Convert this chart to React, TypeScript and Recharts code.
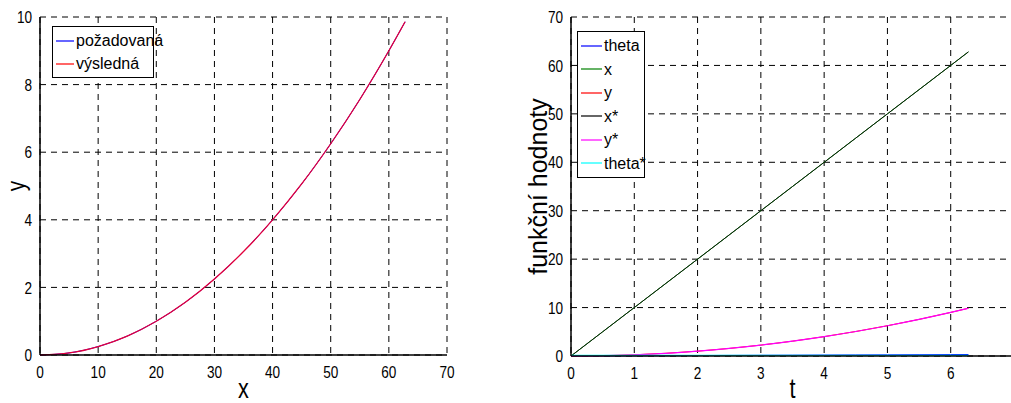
import { LineChart, Line, XAxis, YAxis, CartesianGrid } from "recharts";

// left subplot: requested vs resulting path
const pathX = [0, 5, 10, 15, 20, 25, 30, 35, 40, 45, 50, 55, 60, 62.8];
const pathRequested = [0, 0.06, 0.25, 0.56, 1.0, 1.56, 2.25, 3.06, 4.0, 5.06, 6.25, 7.56, 9.0, 9.86];
const pathResult = [0, 0.06, 0.25, 0.56, 1.0, 1.56, 2.25, 3.06, 4.0, 5.06, 6.25, 7.56, 9.0, 9.86];

// right subplot: function values over t
const tValues = [0, 0.5, 1, 1.5, 2, 2.5, 3, 3.5, 4, 4.5, 5, 5.5, 6, 6.28];
const theta = [0, 0.025, 0.05, 0.075, 0.1, 0.124, 0.149, 0.173, 0.197, 0.221, 0.245, 0.268, 0.291, 0.304];
const xVals = [0, 5, 10, 15, 20, 25, 30, 35, 40, 45, 50, 55, 60, 62.8];
const yVals = [0, 0.06, 0.25, 0.56, 1.0, 1.56, 2.25, 3.06, 4.0, 5.06, 6.25, 7.56, 9.0, 9.86];
const xStar = [0, 5, 10, 15, 20, 25, 30, 35, 40, 45, 50, 55, 60, 62.8];
const yStar = [0, 0.06, 0.25, 0.56, 1.0, 1.56, 2.25, 3.06, 4.0, 5.06, 6.25, 7.56, 9.0, 9.86];
const thetaStar = [0.12, 0.12, 0.12, 0.12, 0.12, 0.12, 0.12, 0.12, 0.12, 0.12, 0.12, 0.12, 0.12, 0.12];

const leftXTicks = [0, 10, 20, 30, 40, 50, 60, 70];
const leftYTicks = [0, 2, 4, 6, 8, 10];
const rightXTicks = [0, 1, 2, 3, 4, 5, 6];
const rightYTicks = [0, 10, 20, 30, 40, 50, 60, 70];

const leftSeries = [
  { key: "req", name: "požadovaná", color: "#0000ff", width: 1 },
  { key: "res", name: "výsledná", color: "#e4003a", width: 1.3 },
];

const rightSeries = [
  { key: "theta", name: "theta", color: "#0000ff", width: 1 },
  { key: "x", name: "x", color: "#008000", width: 1 },
  { key: "y", name: "y", color: "#ff0000", width: 1 },
  { key: "xs", name: "x*", color: "#0a200a", width: 1 },
  { key: "ys", name: "y*", color: "#ff00ff", width: 1.2 },
  { key: "ths", name: "theta*", color: "#00ffff", width: 1.2 },
];

const legendColors: Record<string, string> = {
  req: "#0000ff",
  res: "#ff0000",
  xs: "#000000",
};

const leftData = pathX.map((x, i) => ({ x, req: pathRequested[i], res: pathResult[i] }));
const rightData = tValues.map((t, i) => ({
  t,
  theta: theta[i],
  x: xVals[i],
  y: yVals[i],
  xs: xStar[i],
  ys: yStar[i],
  ths: thetaStar[i],
}));

const SANS = "'Liberation Sans', Arial, sans-serif";
const SQUEEZE = 0.8;
const grid = { stroke: "#000", strokeDasharray: "6 5", strokeWidth: 1 };
const axisLine = { stroke: "#000", strokeWidth: 1.5 };

// MATLAB-ish condensed tick labels
const XTick = ({ x, y, payload }: any) => (
  <g transform={`translate(${x},${y}) scale(${SQUEEZE},1)`}>
    <text x={0} y={0} dy="0.75em" textAnchor="middle" fontSize={17} fontFamily={SANS} fill="#000">
      {payload.value}
    </text>
  </g>
);

const YTick = ({ x, y, payload }: any) => (
  <g transform={`translate(${x},${y}) scale(${SQUEEZE},1)`}>
    <text x={0} y={0} dy="0.36em" textAnchor="end" fontSize={17} fontFamily={SANS} fill="#000">
      {payload.value}
    </text>
  </g>
);

const xLabel = (text: string, dy: number) => (p: any) => {
  const cx = p.viewBox.x + p.viewBox.width / 2;
  const cy = p.viewBox.y + dy;
  return (
    <g transform={`translate(${cx},${cy}) scale(${SQUEEZE},1)`}>
      <text x={0} y={0} textAnchor="middle" fontSize={27} fontFamily={SANS} fill="#000">
        {text}
      </text>
    </g>
  );
};

const yLabel = (text: string, dx: number, size: number, squeeze: number) => (p: any) => {
  const cx = p.viewBox.x + dx;
  const cy = p.viewBox.y + p.viewBox.height / 2;
  return (
    <g transform={`translate(${cx},${cy}) rotate(-90) scale(${squeeze},1)`}>
      <text x={0} y={0} textAnchor="middle" fontSize={size} fontFamily={SANS} fill="#000">
        {text}
      </text>
    </g>
  );
};

function Legend({ items, left, top, width, rowH, lineW }: any) {
  return (
    <div
      style={{
        position: "absolute",
        left,
        top,
        width,
        background: "#fff",
        border: "1px solid #000",
        padding: "2px 0",
        fontFamily: SANS,
        fontSize: 16,
        lineHeight: `${rowH}px`,
      }}
    >
      {items.map((s: any) => (
        <div key={s.key} style={{ display: "flex", alignItems: "center", height: rowH, whiteSpace: "nowrap" }}>
          <span
            style={{
              display: "inline-block",
              flexShrink: 0,
              width: lineW,
              height: 2,
              marginLeft: 3,
              marginRight: 2,
              background: legendColors[s.key] || s.color,
              opacity: 0.6,
            }}
          />
          <span>{s.name}</span>
        </div>
      ))}
    </div>
  );
}

export default function App() {
  return (
    <div
      style={{
        position: "absolute",
        left: 0,
        top: 0,
        width: 1011,
        height: 403,
        overflow: "hidden",
        background: "#fff",
      }}
    >
      <div style={{ position: "absolute", left: 0, top: 0 }}>
        <LineChart width={460} height={403} data={leftData} margin={{ top: 17, right: 13, bottom: 0, left: 0 }}>
          <CartesianGrid {...grid} />
          <XAxis
            dataKey="x"
            type="number"
            domain={[0, 70]}
            ticks={leftXTicks}
            height={48}
            tickLine={false}
            tickMargin={4}
            tick={<XTick />}
            axisLine={axisLine}
            label={{ content: xLabel("x", 43) }}
          />
          <XAxis xAxisId="top" orientation="top" height={0} tick={false} tickLine={false} axisLine={axisLine} dataKey="x" type="number" domain={[0, 70]} />
          <YAxis
            type="number"
            domain={[0, 10]}
            ticks={leftYTicks}
            width={40}
            tickLine={false}
            tickMargin={2}
            tick={<YTick />}
            axisLine={axisLine}
            label={{ content: yLabel("y", 25, 26, SQUEEZE) }}
          />
          <YAxis yAxisId="right" orientation="right" width={0} tick={false} tickLine={false} axisLine={axisLine} domain={[0, 10]} />
          {leftSeries.map((s) => (
            <Line
              key={s.key}
              dataKey={s.key}
              name={s.name}
              type="monotone"
              stroke={s.color}
              strokeWidth={s.width}
              dot={false}
              isAnimationActive={false}
            />
          ))}
        </LineChart>
        <Legend items={leftSeries} left={52} top={26} width={100} rowH={23} lineW={18} />
      </div>

      <div style={{ position: "absolute", left: 520, top: 0 }}>
        <LineChart width={520} height={403} data={rightData} margin={{ top: 17, right: 26, bottom: 0, left: 0 }}>
          <CartesianGrid {...grid} />
          <XAxis
            dataKey="t"
            type="number"
            domain={[0, 7]}
            ticks={rightXTicks}
            height={47}
            tickLine={false}
            tickMargin={4}
            tick={<XTick />}
            axisLine={axisLine}
            label={{ content: xLabel("t", 42) }}
          />
          <XAxis xAxisId="top" orientation="top" height={0} tick={false} tickLine={false} axisLine={axisLine} dataKey="t" type="number" domain={[0, 7]} />
          <YAxis
            type="number"
            domain={[0, 70]}
            ticks={rightYTicks}
            width={51}
            tickLine={false}
            tickMargin={2}
            tick={<YTick />}
            axisLine={axisLine}
            label={{ content: yLabel("funkční hodnoty", 27, 25, 1) }}
          />
          {rightSeries.map((s) => (
            <Line
              key={s.key}
              dataKey={s.key}
              name={s.name}
              type="monotone"
              stroke={s.color}
              strokeWidth={s.width}
              dot={false}
              isAnimationActive={false}
            />
          ))}
        </LineChart>
        <Legend items={rightSeries} left={57} top={31} width={66} rowH={23.5} lineW={21} />
      </div>
    </div>
  );
}
